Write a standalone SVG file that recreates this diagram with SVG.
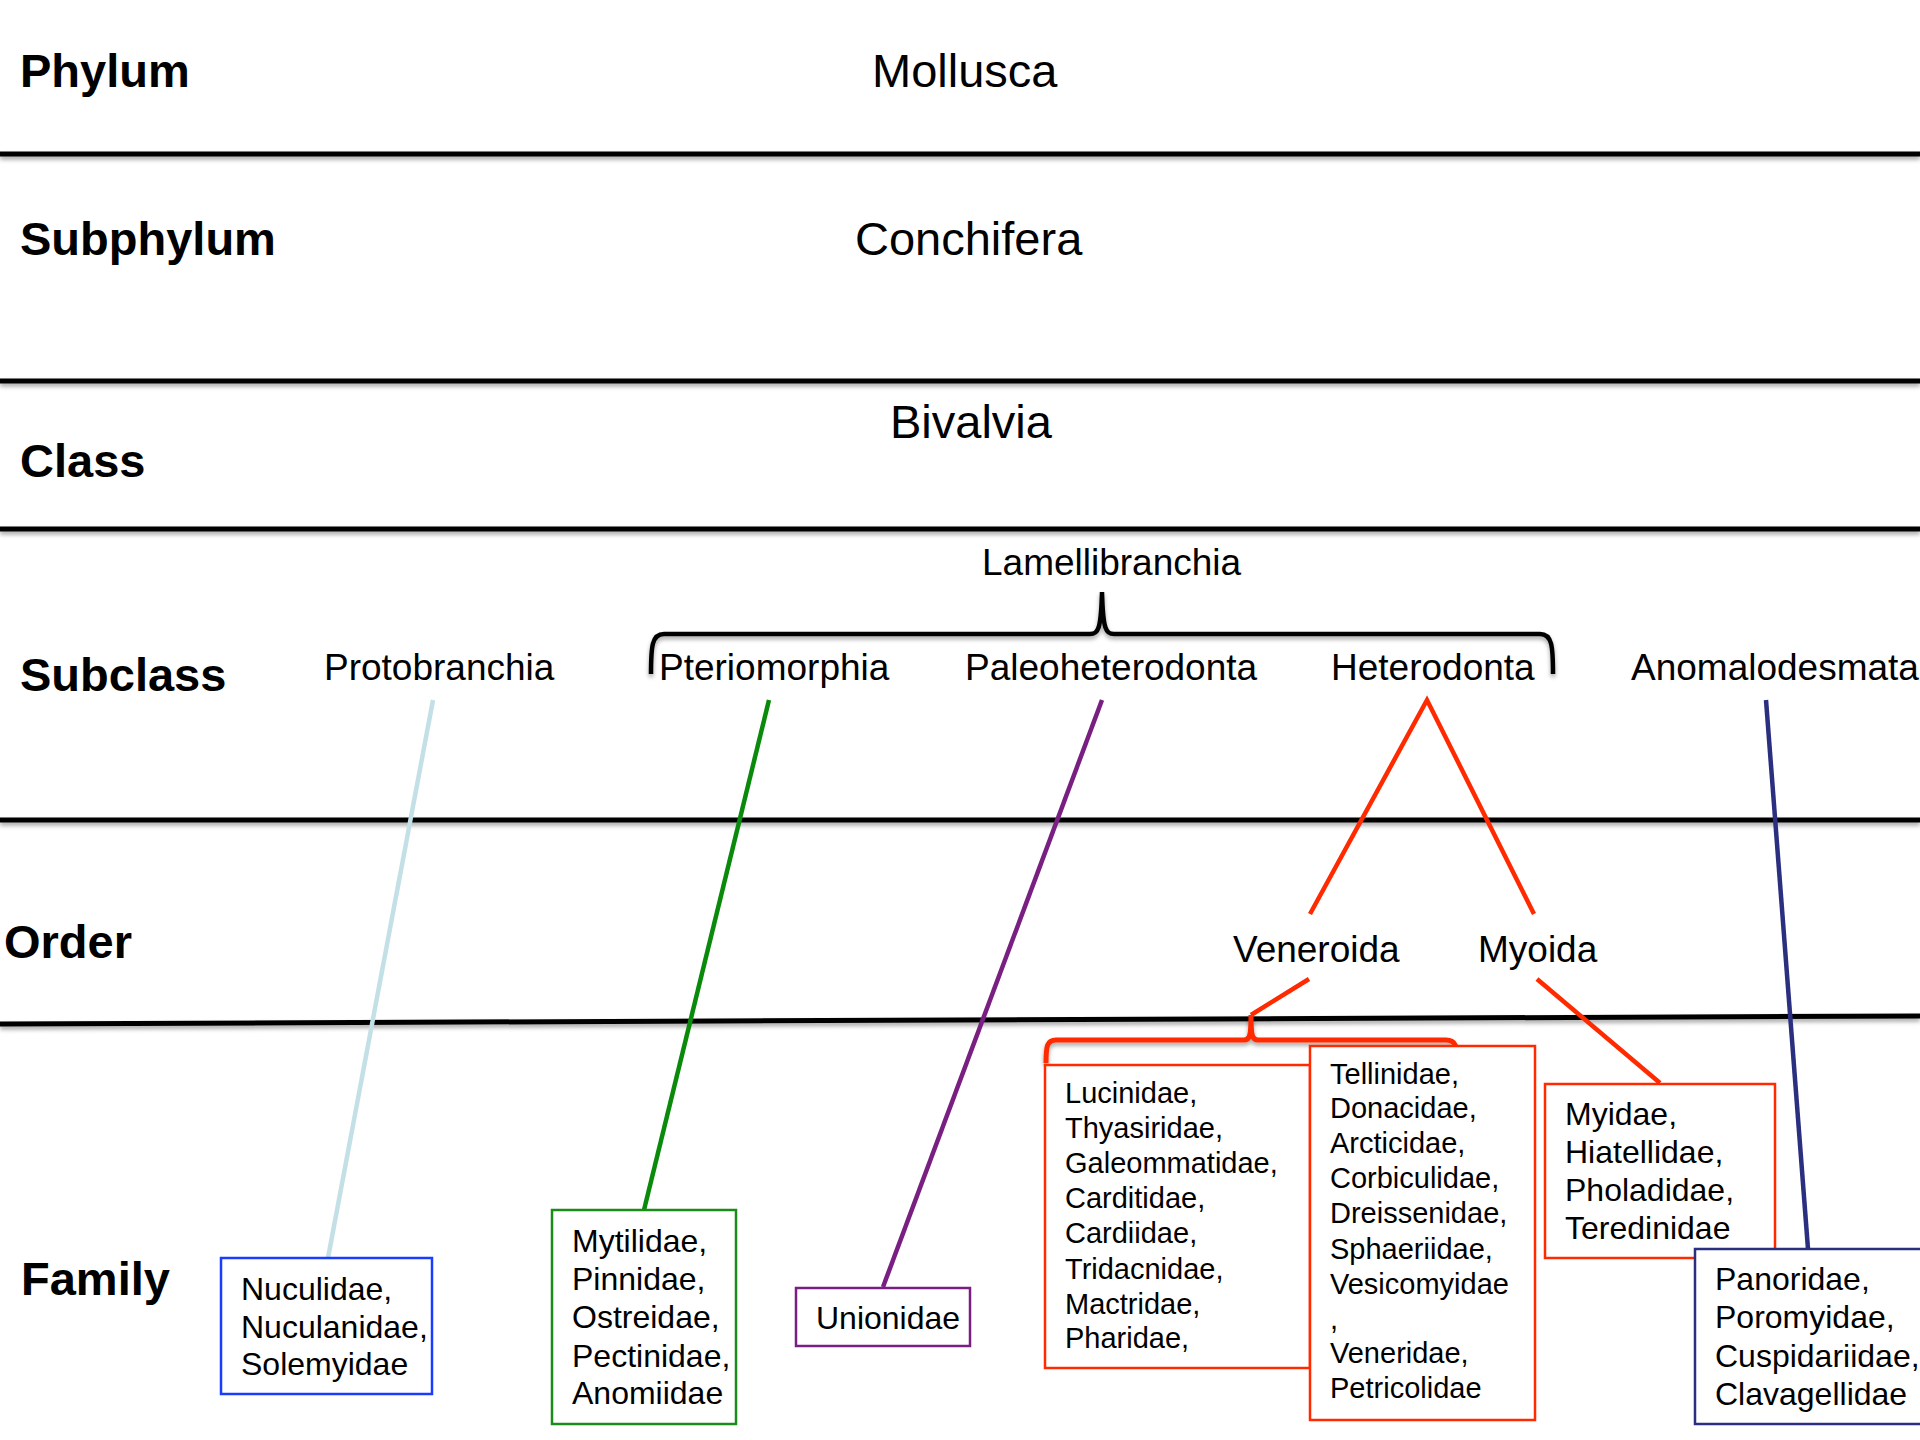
<svg xmlns="http://www.w3.org/2000/svg" width="1920" height="1440" viewBox="0 0 1920 1440">
<defs>
<filter id="sh" filterUnits="userSpaceOnUse" x="0" y="0" width="1920" height="1440">
<feDropShadow dx="0" dy="3" stdDeviation="2" flood-color="#000" flood-opacity="0.35"/>
</filter>
<style>
.rank{font-family:"Liberation Sans",Arial,sans-serif;font-weight:bold;font-size:47px;fill:#000}
.big{font-family:"Liberation Sans",Arial,sans-serif;font-size:47px;fill:#000}
.mid{font-family:"Liberation Sans",Arial,sans-serif;font-size:37px;fill:#000}
.fam{font-family:"Liberation Sans",Arial,sans-serif;font-size:32px;fill:#000}
.fams{font-family:"Liberation Sans",Arial,sans-serif;font-size:29px;fill:#000}
.hl{stroke:#000;stroke-width:5;fill:none;filter:url(#sh)}
.box{fill:#fff;stroke-width:2.5}
.con{fill:none;stroke-width:4.5}
</style>
</defs>
<rect width="1920" height="1440" fill="#fff"/>

<g id="grid">
<line class="hl" x1="0" y1="154" x2="1920" y2="154"/>
<line class="hl" x1="0" y1="381" x2="1920" y2="381"/>
<line class="hl" x1="0" y1="529" x2="1920" y2="529"/>
<line class="hl" x1="0" y1="820" x2="1920" y2="820"/>
<line class="hl" x1="0" y1="1024" x2="1920" y2="1016"/>
</g>

<g id="ranks">
<text class="rank" x="20" y="87">Phylum</text>
<text class="rank" x="20" y="255">Subphylum</text>
<text class="rank" x="20" y="477">Class</text>
<text class="rank" x="20" y="691">Subclass</text>
<text class="rank" x="4" y="958">Order</text>
<text class="rank" x="21" y="1295">Family</text>
</g>

<g id="connectors">
<path class="con" d="M433,700 L328,1258" stroke="#c2e0e6" stroke-width="5"/>
<path class="con" d="M769,700 L644,1210" stroke="#0a8a0a"/>
<path class="con" d="M1102,700 L883,1287" stroke="#7a1f82"/>
<path class="con" d="M1310,914 L1427,700 L1534,914" stroke="#ff2a00"/>
<path class="con" d="M1309,979 L1251,1015" stroke="#ff2a00" stroke-width="5"/>
<path class="con" d="M1537,979 L1660,1083" stroke="#ff2a00" stroke-width="5"/>
<path class="con" d="M1766,700 L1808,1249" stroke="#2b2f80"/>
<path d="M651,674 C651,646 652,634 664,634 L1090,634 C1098,634 1101,630 1102,592 C1103,630 1106,634 1114,634 L1540,634 C1552,634 1553,646 1553,674" fill="none" stroke="#000" stroke-width="4.5" filter="url(#sh)"/>
<path d="M1046,1063 C1046,1046 1047,1040 1056,1040 L1244,1040 C1250,1040 1251,1035 1251,1015 C1251,1035 1252,1040 1258,1040 L1446,1040 C1456,1040 1457,1046 1457,1063" fill="none" stroke="#ff2a00" stroke-width="5" filter="url(#sh)"/>
</g>

<g id="n-mollusca"><text class="big" x="872" y="87">Mollusca</text></g>
<g id="n-conchifera"><text class="big" x="855" y="255">Conchifera</text></g>
<g id="n-bivalvia"><text class="big" x="890" y="438">Bivalvia</text></g>
<g id="n-lamellibranchia"><text class="mid" x="982" y="575">Lamellibranchia</text></g>
<g id="n-protobranchia"><text class="mid" x="324" y="680">Protobranchia</text></g>
<g id="n-pteriomorphia"><text class="mid" x="659" y="680">Pteriomorphia</text></g>
<g id="n-paleoheterodonta"><text class="mid" x="965" y="680">Paleoheterodonta</text></g>
<g id="n-heterodonta"><text class="mid" x="1331" y="680">Heterodonta</text></g>
<g id="n-anomalodesmata"><text class="mid" x="1631" y="680">Anomalodesmata</text></g>
<g id="n-veneroida"><text class="mid" x="1233" y="962">Veneroida</text></g>
<g id="n-myoida"><text class="mid" x="1478" y="962">Myoida</text></g>

<g id="f-proto">
<rect class="box" x="221" y="1258" width="211" height="136" stroke="#1a3cff"/>
<text class="fam" x="241" y="1300">Nuculidae,</text>
<text class="fam" x="241" y="1338">Nuculanidae,</text>
<text class="fam" x="241" y="1375">Solemyidae</text>
</g>
<g id="f-pterio">
<rect class="box" x="552" y="1210" width="184" height="214" stroke="#1a8c1a"/>
<text class="fam" x="572" y="1252">Mytilidae,</text>
<text class="fam" x="572" y="1290">Pinnidae,</text>
<text class="fam" x="572" y="1328">Ostreidae,</text>
<text class="fam" x="572" y="1367">Pectinidae,</text>
<text class="fam" x="572" y="1404">Anomiidae</text>
</g>
<g id="f-paleo">
<rect class="box" x="796" y="1288" width="174" height="58" stroke="#7a1f82"/>
<text class="fam" x="816" y="1329">Unionidae</text>
</g>
<g id="f-vener1">
<rect class="box" x="1045" y="1065" width="265" height="303" stroke="#ff2a00"/>
<text class="fams" x="1065" y="1103">Lucinidae,</text>
<text class="fams" x="1065" y="1138">Thyasiridae,</text>
<text class="fams" x="1065" y="1173">Galeommatidae,</text>
<text class="fams" x="1065" y="1208">Carditidae,</text>
<text class="fams" x="1065" y="1243">Cardiidae,</text>
<text class="fams" x="1065" y="1279">Tridacnidae,</text>
<text class="fams" x="1065" y="1314">Mactridae,</text>
<text class="fams" x="1065" y="1348">Pharidae,</text>
</g>
<g id="f-vener2">
<rect class="box" x="1310" y="1046" width="225" height="374" stroke="#ff2a00"/>
<text class="fams" x="1330" y="1084">Tellinidae,</text>
<text class="fams" x="1330" y="1118">Donacidae,</text>
<text class="fams" x="1330" y="1153">Arcticidae,</text>
<text class="fams" x="1330" y="1188">Corbiculidae,</text>
<text class="fams" x="1330" y="1223">Dreissenidae,</text>
<text class="fams" x="1330" y="1259">Sphaeriidae,</text>
<text class="fams" x="1330" y="1294">Vesicomyidae</text>
<text class="fams" x="1330" y="1329">,</text>
<text class="fams" x="1330" y="1363">Veneridae,</text>
<text class="fams" x="1330" y="1398">Petricolidae</text>
</g>
<g id="f-myoida">
<rect class="box" x="1545" y="1084" width="230" height="174" stroke="#ff2a00"/>
<text class="fam" x="1565" y="1125">Myidae,</text>
<text class="fam" x="1565" y="1163">Hiatellidae,</text>
<text class="fam" x="1565" y="1201">Pholadidae,</text>
<text class="fam" x="1565" y="1239">Teredinidae</text>
</g>
<g id="f-anomalo">
<rect class="box" x="1695" y="1249" width="240" height="175" stroke="#2b2f80"/>
<text class="fam" x="1715" y="1290">Panoridae,</text>
<text class="fam" x="1715" y="1328">Poromyidae,</text>
<text class="fam" x="1715" y="1367">Cuspidariidae,</text>
<text class="fam" x="1715" y="1405">Clavagellidae</text>
</g>
</svg>
